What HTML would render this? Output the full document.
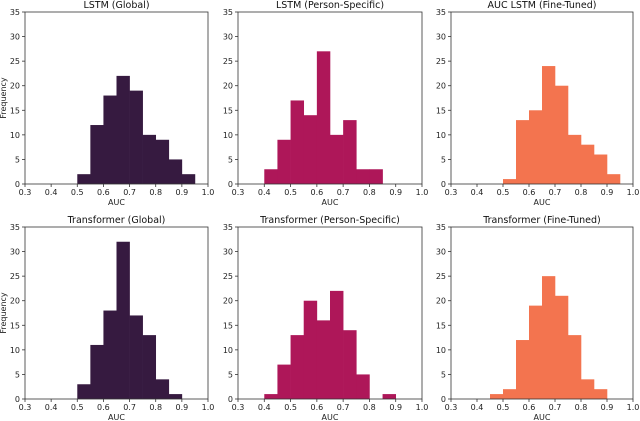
<!DOCTYPE html>
<html><head><meta charset="utf-8"><style>
body{margin:0;background:#fff;}
svg{display:block;font-family:"DejaVu Sans","Liberation Sans",sans-serif;}
</style></head><body>
<svg id="fig" width="640" height="421" viewBox="0 0 640 421" xmlns="http://www.w3.org/2000/svg"></svg>
<script>
const titles = ["LSTM (Global)","LSTM (Person-Specific)","AUC LSTM (Fine-Tuned)","Transformer (Global)","Transformer (Person-Specific)","Transformer (Fine-Tuned)"];
const binStarts = [0.5,0.4,0.5,0.5,0.4,0.45];
const countsLstmGlobal = [2,12,18,22,19,10,9,5,2];
const countsLstmPerson = [3,9,17,14,27,10,13,3,3];
const countsLstmFine = [1,13,15,24,20,10,8,6,2];
const countsTrGlobal = [3,11,18,32,17,13,4,1];
const countsTrPerson = [1,7,13,20,16,22,14,5,0,1];
const countsTrFine = [1,2,12,19,25,21,13,4,2];
const allCounts = [countsLstmGlobal,countsLstmPerson,countsLstmFine,countsTrGlobal,countsTrPerson,countsTrFine];
const binWidth = 0.05;
const xTicks = ["0.3","0.4","0.5","0.6","0.7","0.8","0.9","1.0"];
const yTicks = [0,5,10,15,20,25,30,35];
const colors = ["#361a40","#ae1759","#f3744f","#361a40","#ae1759","#f3744f"];
const NS="http://www.w3.org/2000/svg";
const svg=document.getElementById('fig');
function mk(tag,attrs,parent){const e=document.createElementNS(NS,tag);for(const k in attrs)e.setAttribute(k,attrs[k]);(parent||svg).appendChild(e);return e;}
const lefts=[25,238,451], rights=[208,422,633];
const tops=[12,227], bottoms=[184,399];
for(let p=0;p<6;p++){
  const c=p%3, r=Math.floor(p/3);
  const x0=lefts[c], x1=rights[c], y0=tops[r], y1=bottoms[r];
  const xs=v=>x0+(v-0.3)/0.7*(x1-x0);
  const ys=v=>y1-v/35*(y1-y0);
  const g=mk('g',{});
  
  
  allCounts[p].forEach((cnt,i)=>{
    if(cnt<=0) return;
    const a=binStarts[p]+i*binWidth;
    const b=mk('rect',{x:xs(a),y:ys(cnt),width:xs(a+binWidth)-xs(a)+0.3,height:ys(0)-ys(cnt),fill:colors[p]},g);
    
    
  });
  const fr=mk('rect',{x:x0,y:y0,width:x1-x0,height:y1-y0,fill:'none',stroke:'#333','stroke-width':0.8},g);
  
  
  xTicks.forEach(t=>{
    const x=xs(parseFloat(t));
    mk('line',{x1:x,x2:x,y1:y1,y2:y1+3,stroke:'#333','stroke-width':0.8},g);
    const tx=mk('text',{x:x,y:y1+11,'font-size':8,'text-anchor':'middle',fill:'#222'},g);
    tx.textContent=t;
    
    
  });
  yTicks.forEach(t=>{
    const y=ys(t);
    mk('line',{x1:x0-3,x2:x0,y1:y,y2:y,stroke:'#333','stroke-width':0.8},g);
    const tx=mk('text',{x:x0-5,y:y+3,'font-size':8,'text-anchor':'end',fill:'#222'},g);
    tx.textContent=t;
    
    
  });
  const ti=mk('text',{x:(x0+x1)/2,y:y0-4,'font-size':9.5,'text-anchor':'middle',fill:'#111'},g);
  ti.textContent=titles[p];
  
  
  const xl=mk('text',{x:(x0+x1)/2,y:y1+21,'font-size':8,'text-anchor':'middle',fill:'#222'},g);
  xl.textContent='AUC';
  
  
  if(c===0){
    const yl=mk('text',{x:6,y:(y0+y1)/2,'font-size':8,'text-anchor':'middle',fill:'#222',transform:`rotate(-90 6 ${(y0+y1)/2})`},g);
    yl.textContent='Frequency';
    
    
  }
}
</script>
</body></html>
